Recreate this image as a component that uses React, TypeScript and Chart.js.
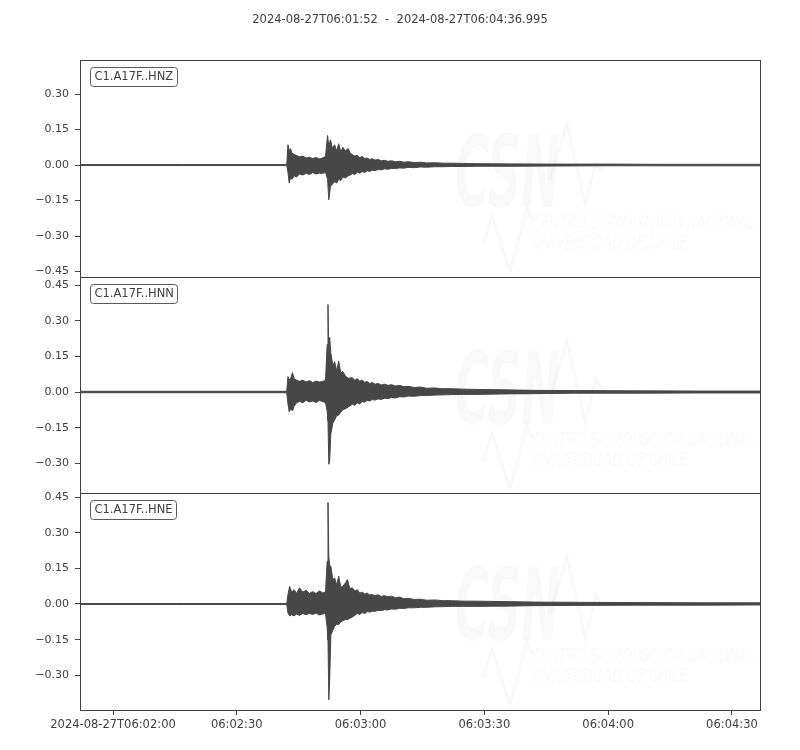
import React, { useEffect, useRef } from 'react';
import { Chart, registerables } from 'chart.js';

Chart.register(...registerables);

// ---------------- data ----------------
const TITLE = '2024-08-27T06:01:52  -  2024-08-27T06:04:36.995';
const TRACE_LABELS = ['C1.A17F..HNZ', 'C1.A17F..HNN', 'C1.A17F..HNE'];

// seconds after 2024-08-27T06:01:52
const X_MIN = 0;
const X_MAX = 164.8;
const X_TICK_VALUES = [8, 38, 68, 98, 128, 158];
const X_TICK_LABELS = ['2024-08-27T06:02:00', '06:02:30', '06:03:00', '06:03:30', '06:04:00', '06:04:30'];

const Y_TICKS_HNZ = [-0.45, -0.3, -0.15, 0, 0.15, 0.3];
const Y_TICKS_HNN = [-0.3, -0.15, 0, 0.15, 0.3, 0.45];
const Y_TICKS_HNE = [-0.3, -0.15, 0, 0.15, 0.3, 0.45];
const Y_RANGE_HNZ = [-0.473, 0.444];
const Y_RANGE_HNN = [-0.425, 0.484];
const Y_RANGE_HNE = [-0.446, 0.467];

// HNZ envelope (time s, upper, lower)
const HNZ_T = [0, 25, 50.1, 50.4, 50.7, 51.0, 51.4, 51.9, 52.5, 53.2, 54.0, 54.8, 55.6, 56.4, 57.2, 58.0, 58.8, 59.5, 60.0, 60.3, 60.7, 61.2, 61.7, 62.2, 62.7, 63.2, 63.7, 64.3, 65.0, 65.5, 66.0, 66.6, 67.2, 67.8, 68.4, 69.0, 69.6, 70.2, 70.8, 71.5, 72.2, 73.0, 73.8, 74.6, 75.5, 76.5, 77.5, 78.5, 79.5, 81, 82.5, 84, 86, 88, 90, 93, 96, 104, 115, 128, 142, 155, 165];
const HNZ_UP = [0.002, 0.002, 0.002, 0.086, 0.060, 0.070, 0.050, 0.045, 0.040, 0.035, 0.038, 0.030, 0.033, 0.028, 0.032, 0.026, 0.030, 0.037, 0.125, 0.080, 0.107, 0.070, 0.086, 0.060, 0.090, 0.055, 0.075, 0.060, 0.070, 0.050, 0.045, 0.038, 0.042, 0.032, 0.036, 0.028, 0.030, 0.024, 0.027, 0.021, 0.024, 0.018, 0.020, 0.016, 0.018, 0.014, 0.016, 0.012, 0.014, 0.011, 0.012, 0.009, 0.010, 0.008, 0.008, 0.007, 0.006, 0.005, 0.004, 0.004, 0.003, 0.003, 0.003];
const HNZ_LO = [-0.002, -0.002, -0.002, -0.030, -0.076, -0.055, -0.060, -0.045, -0.050, -0.038, -0.042, -0.035, -0.040, -0.032, -0.038, -0.034, -0.036, -0.030, -0.060, -0.147, -0.090, -0.080, -0.070, -0.076, -0.060, -0.065, -0.050, -0.055, -0.045, -0.042, -0.036, -0.040, -0.030, -0.034, -0.028, -0.031, -0.024, -0.027, -0.022, -0.023, -0.019, -0.020, -0.016, -0.018, -0.014, -0.015, -0.012, -0.013, -0.010, -0.011, -0.008, -0.009, -0.007, -0.007, -0.006, -0.006, -0.005, -0.005, -0.004, -0.003, -0.003, -0.003, -0.003];

// HNN envelope
const HNN_T = [0, 25, 50.1, 50.4, 50.7, 51.1, 51.5, 51.9, 52.5, 53.2, 54.0, 54.8, 55.6, 56.4, 57.2, 58.0, 58.8, 59.5, 59.9, 60.1, 60.3, 60.5, 60.8, 61.3, 61.7, 62.2, 62.7, 63.2, 63.7, 64.4, 65.1, 66.0, 66.6, 67.2, 67.8, 68.4, 69.0, 69.6, 70.2, 70.8, 71.5, 72.2, 73.0, 73.8, 74.6, 75.5, 76.5, 77.5, 78.5, 79.5, 81, 82.5, 84, 86, 88, 90, 93, 96, 103, 110, 120, 135, 150, 165];
const HNN_UP = [0.003, 0.003, 0.003, 0.065, 0.050, 0.060, 0.082, 0.055, 0.050, 0.045, 0.050, 0.042, 0.048, 0.040, 0.046, 0.042, 0.044, 0.050, 0.200, 0.368, 0.150, 0.230, 0.163, 0.110, 0.128, 0.090, 0.130, 0.080, 0.086, 0.065, 0.058, 0.060, 0.050, 0.056, 0.046, 0.050, 0.041, 0.044, 0.036, 0.040, 0.033, 0.036, 0.030, 0.033, 0.028, 0.031, 0.025, 0.028, 0.022, 0.024, 0.019, 0.021, 0.016, 0.017, 0.014, 0.014, 0.012, 0.011, 0.009, 0.007, 0.006, 0.005, 0.004, 0.004];
const HNN_LO = [-0.003, -0.003, -0.003, -0.050, -0.083, -0.070, -0.080, -0.060, -0.045, -0.040, -0.045, -0.035, -0.042, -0.038, -0.044, -0.036, -0.040, -0.045, -0.080, -0.120, -0.304, -0.290, -0.175, -0.130, -0.118, -0.100, -0.097, -0.085, -0.075, -0.070, -0.062, -0.052, -0.056, -0.046, -0.050, -0.040, -0.043, -0.035, -0.038, -0.032, -0.034, -0.029, -0.031, -0.026, -0.028, -0.023, -0.025, -0.020, -0.021, -0.017, -0.018, -0.015, -0.015, -0.013, -0.012, -0.011, -0.010, -0.010, -0.008, -0.007, -0.005, -0.005, -0.004, -0.004];

// HNE envelope
const HNE_T = [0, 25, 50.1, 50.4, 50.8, 51.3, 51.9, 52.5, 53.2, 54.0, 54.8, 55.6, 56.4, 57.2, 58.0, 58.8, 59.5, 59.9, 60.1, 60.3, 60.5, 60.8, 61.3, 61.7, 62.2, 62.7, 63.2, 63.7, 64.4, 64.8, 65.4, 66.0, 66.6, 67.2, 67.8, 68.4, 69.0, 69.6, 70.2, 70.8, 71.5, 72.2, 73.0, 73.8, 74.6, 75.5, 76.5, 77.5, 78.5, 79.5, 81, 82.5, 84, 86, 88, 90, 93, 96, 103, 110, 120, 135, 150, 165];
const HNE_UP = [0.002, 0.002, 0.002, 0.040, 0.074, 0.050, 0.060, 0.045, 0.068, 0.050, 0.058, 0.045, 0.052, 0.044, 0.055, 0.047, 0.050, 0.180, 0.427, 0.200, 0.164, 0.159, 0.100, 0.110, 0.080, 0.117, 0.070, 0.075, 0.090, 0.103, 0.065, 0.068, 0.055, 0.060, 0.046, 0.050, 0.042, 0.046, 0.038, 0.040, 0.035, 0.039, 0.032, 0.035, 0.030, 0.033, 0.026, 0.029, 0.022, 0.024, 0.019, 0.020, 0.016, 0.017, 0.014, 0.014, 0.012, 0.012, 0.010, 0.008, 0.007, 0.006, 0.005, 0.005];
const HNE_LO = [-0.002, -0.002, -0.002, -0.038, -0.050, -0.045, -0.050, -0.042, -0.048, -0.040, -0.045, -0.040, -0.044, -0.038, -0.046, -0.042, -0.040, -0.100, -0.150, -0.403, -0.325, -0.130, -0.110, -0.094, -0.085, -0.087, -0.075, -0.070, -0.065, -0.066, -0.060, -0.055, -0.048, -0.040, -0.044, -0.036, -0.040, -0.032, -0.034, -0.030, -0.031, -0.027, -0.028, -0.024, -0.025, -0.021, -0.022, -0.018, -0.019, -0.016, -0.016, -0.014, -0.014, -0.012, -0.011, -0.010, -0.010, -0.010, -0.009, -0.007, -0.006, -0.005, -0.005, -0.004];

// ---------------- styles ----------------
const TRACE_COLOR = '#474747';
const AXIS_COLOR = '#404040';
const TEXT_COLOR = '#404040';
const WM_COLOR = 'rgba(0,0,0,0.022)';
const FONT = '"DejaVu Sans", sans-serif';

const PANELS = [
  { label: TRACE_LABELS[0], t: HNZ_T, up: HNZ_UP, lo: HNZ_LO, yTicks: Y_TICKS_HNZ, yRange: Y_RANGE_HNZ, padTop: 60, padBottom: 473, bottom: false, title: true },
  { label: TRACE_LABELS[1], t: HNN_T, up: HNN_UP, lo: HNN_LO, yTicks: Y_TICKS_HNN, yRange: Y_RANGE_HNN, padTop: 277, padBottom: 257, bottom: false, title: false },
  { label: TRACE_LABELS[2], t: HNE_T, up: HNE_UP, lo: HNE_LO, yTicks: Y_TICKS_HNE, yRange: Y_RANGE_HNE, padTop: 493, padBottom: 0, bottom: true, title: false },
];

function fmtY(v: number) {
  const s = Math.abs(v) < 1e-9 ? '0.00' : v.toFixed(2);
  return s.replace('-', '\u2212');
}

function drawWatermark(ctx: CanvasRenderingContext2D, a: any) {
  const L = a.left;
  const T = a.top;
  ctx.save();
  ctx.beginPath();
  ctx.rect(a.left, a.top, a.right - a.left, a.bottom - a.top);
  ctx.clip();
  ctx.fillStyle = WM_COLOR;
  ctx.strokeStyle = WM_COLOR;
  // big letters
  ctx.font = 'italic bold 100px ' + FONT;
  ctx.textBaseline = 'alphabetic';
  ctx.textAlign = 'left';
  const w = ctx.measureText('CSN').width;
  ctx.save();
  ctx.translate(L + 375, T + 147);
  ctx.scale(105 / w, 1);
  ctx.fillText('CSN', 0, 0);
  ctx.restore();
  // wiggles
  ctx.lineWidth = 3;
  ctx.lineJoin = 'miter';
  ctx.beginPath();
  ctx.moveTo(L + 470, T + 120);
  ctx.lineTo(L + 487, T + 64);
  ctx.lineTo(L + 505, T + 145);
  ctx.lineTo(L + 516, T + 102);
  ctx.lineTo(L + 522, T + 112);
  ctx.stroke();
  ctx.beginPath();
  ctx.moveTo(L + 403, T + 185);
  ctx.lineTo(L + 412, T + 156);
  ctx.lineTo(L + 430, T + 212);
  ctx.lineTo(L + 447, T + 148);
  ctx.lineTo(L + 453, T + 162);
  ctx.stroke();
  // text
  ctx.font = 'italic 20px ' + FONT;
  const l1 = 'CENTRO SISMOL\u00d3GICO NACIONAL';
  const l2 = 'UNIVERSIDAD DE CHILE';
  const sx = 223 / ctx.measureText(l1).width;
  ctx.save();
  ctx.translate(L + 452, T + 169);
  ctx.scale(sx, 1);
  ctx.fillText(l1, 0, 0);
  ctx.fillText(l2, 0, 20);
  ctx.restore();
  ctx.restore();
}

function makeChart(canvas: HTMLCanvasElement, p: any) {
  const upper = p.t.map((t: number, i: number) => ({ x: t, y: p.up[i] }));
  const lower = p.t.map((t: number, i: number) => ({ x: t, y: p.lo[i] }));

  const decor = {
    id: 'decor',
    beforeDatasetsDraw(chart: any) {
      drawWatermark(chart.ctx, chart.chartArea);
    },
    afterDatasetsDraw(chart: any) {
      const ctx = chart.ctx as CanvasRenderingContext2D;
      const a = chart.chartArea;
      ctx.save();
      // frame
      ctx.strokeStyle = AXIS_COLOR;
      ctx.lineWidth = 1;
      ctx.strokeRect(Math.round(a.left) + 0.5, Math.round(a.top) + 0.5, Math.round(a.right - a.left), Math.round(a.bottom - a.top));
      // label box
      ctx.font = '11.5px ' + FONT;
      const tw = ctx.measureText(p.label).width;
      const bx = Math.round(a.left) + 10.5;
      const by = Math.round(a.top) + 7.5;
      const bw = Math.round(tw + 8);
      const bh = 19;
      ctx.beginPath();
      (ctx as any).roundRect(bx, by, bw, bh, 3);
      ctx.fillStyle = '#ffffff';
      ctx.fill();
      ctx.strokeStyle = '#5a5a5a';
      ctx.stroke();
      ctx.fillStyle = TEXT_COLOR;
      ctx.textBaseline = 'middle';
      ctx.textAlign = 'left';
      ctx.fillText(p.label, bx + 4, by + bh / 2 + 0.5);
      // title
      if (p.title) {
        ctx.font = '11.5px ' + FONT;
        ctx.textAlign = 'center';
        ctx.fillText(TITLE, 400, 20);
      }
      ctx.restore();
    },
  };

  return new Chart(canvas, {
    type: 'line',
    data: {
      datasets: [
        {
          data: upper,
          borderColor: TRACE_COLOR,
          backgroundColor: TRACE_COLOR,
          borderWidth: 1,
          pointRadius: 0,
          tension: 0,
          fill: '+1',
        },
        {
          data: lower,
          borderColor: TRACE_COLOR,
          backgroundColor: TRACE_COLOR,
          borderWidth: 1,
          pointRadius: 0,
          tension: 0,
          fill: false,
        },
      ],
    },
    options: {
      animation: false,
      responsive: false,
      maintainAspectRatio: false,
      events: [],
      layout: { padding: { top: p.padTop, bottom: p.padBottom, left: 0, right: 40 } },
      plugins: {
        legend: { display: false },
        tooltip: { enabled: false },
        title: { display: false },
      },
      scales: {
        x: {
          type: 'linear',
          min: X_MIN,
          max: X_MAX,
          display: p.bottom,
          afterBuildTicks: (s: any) => {
            s.ticks = X_TICK_VALUES.map((v) => ({ value: v }));
          },
          afterFit: (s: any) => {
            s.height = p.bottom ? 40 : 0;
          },
          grid: { drawOnChartArea: false, tickLength: 5, color: AXIS_COLOR },
          border: { display: false },
          ticks: {
            color: TEXT_COLOR,
            font: { family: FONT, size: 11.5 },
            padding: 3,
            maxRotation: 0,
            autoSkip: false,
            callback: (_v: any, i: number) => X_TICK_LABELS[i],
          },
        },
        y: {
          type: 'linear',
          min: p.yRange[0],
          max: p.yRange[1],
          afterBuildTicks: (s: any) => {
            s.ticks = p.yTicks.map((v: number) => ({ value: v }));
          },
          afterFit: (s: any) => {
            s.width = 80;
          },
          grid: { drawOnChartArea: false, tickLength: 5, color: AXIS_COLOR },
          border: { display: false },
          ticks: {
            color: TEXT_COLOR,
            font: { family: FONT, size: 11 },
            padding: 6,
            autoSkip: false,
            callback: (_v: any, i: number) => fmtY(p.yTicks[i]),
          },
        },
      },
    },
    plugins: [decor],
  } as any);
}

export default function App() {
  const r0 = useRef<HTMLCanvasElement>(null);
  const r1 = useRef<HTMLCanvasElement>(null);
  const r2 = useRef<HTMLCanvasElement>(null);

  useEffect(() => {
    const refs = [r0, r1, r2];
    const charts = PANELS.map((p, i) => makeChart(refs[i].current as HTMLCanvasElement, p));
    return () => charts.forEach((c) => c.destroy());
  }, []);

  const cs: React.CSSProperties = { position: 'absolute', left: 0, top: 0, width: 800, height: 750 };
  return (
    <div style={{ position: 'absolute', left: 0, top: 0, width: 800, height: 750, background: '#ffffff' }}>
      <canvas ref={r0} width={800} height={750} style={cs} />
      <canvas ref={r1} width={800} height={750} style={cs} />
      <canvas ref={r2} width={800} height={750} style={cs} />
    </div>
  );
}
